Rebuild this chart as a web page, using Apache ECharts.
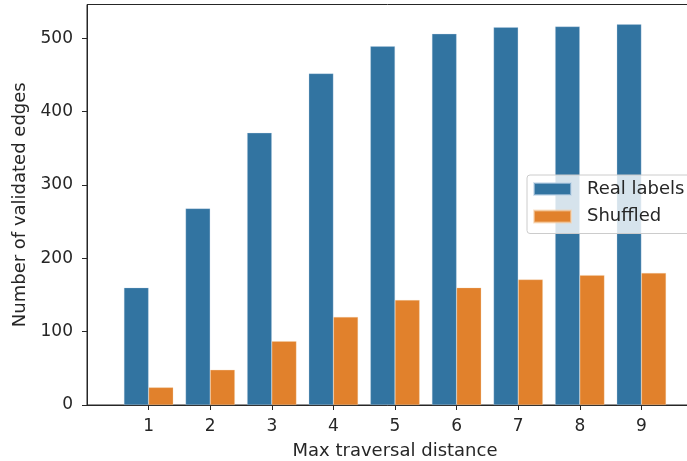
<!DOCTYPE html>
<html>
<head>
<meta charset="utf-8">
<script src="https://cdn.jsdelivr.net/npm/echarts@6/dist/echarts.min.js"></script>
<style>
  html, body { margin: 0; padding: 0; background: #fff; }
  #chart { width: 687px; height: 461px; }
</style>
</head>
<body>
<div id="chart"></div>
<script>
// Max traversal distance (x categories)
const categories = ['1', '2', '3', '4', '5', '6', '7', '8', '9'];
// Number of validated edges per distance
const realLabels = [160, 268, 371, 452, 489, 506, 515, 516, 519];
const shuffled = [24, 48, 87, 120, 143, 160, 171, 177, 180];
// Y axis tick values
const yTicks = [0, 100, 200, 300, 400, 500];

const FONT = 'DejaVu Sans';
const INK = '#262626';

// Pad the category axis with an empty slot on each side so the first
// bar group sits one step in from the left spine.
const axisCats = [''].concat(categories, ['']);
const pad = arr => [null].concat(arr, [null]);

const chart = echarts.init(document.getElementById('chart'), null, { renderer: 'canvas' });

chart.setOption({
  animation: false,
  textStyle: { fontFamily: FONT },
  grid: {
    left: 87,
    right: -16,
    top: 4.5,
    bottom: 56,
    outerBoundsMode: 'none',
    containLabel: false,
    show: true,
    borderColor: INK,
    borderWidth: 1,
    backgroundColor: 'transparent'
  },
  legend: {
    left: 527,
    top: 175,
    orient: 'vertical',
    itemWidth: 37,
    itemHeight: 12,
    itemGap: 9.5,
    padding: [5, 6, 8, 6],
    backgroundColor: 'rgba(255,255,255,0.8)',
    borderColor: '#cccccc',
    borderWidth: 1,
    borderRadius: 3,
    icon: 'rect',
    textStyle: {
      fontFamily: FONT,
      fontSize: 18,
      lineHeight: 18,
      color: INK,
      padding: [0, 0, 0, 11]
    },
    data: ['Real labels', 'Shuffled']
  },
  xAxis: {
    type: 'category',
    data: axisCats,
    boundaryGap: false,
    name: 'Max traversal distance',
    nameLocation: 'middle',
    nameGap: 37,
    nameTextStyle: { fontFamily: FONT, fontSize: 18, color: INK },
    axisLine: { show: true, lineStyle: { color: INK, width: 1 } },
    axisTick: {
      show: true,
      length: 5,
      interval: (i, v) => v !== '',
      lineStyle: { color: INK, width: 1 }
    },
    axisLabel: {
      interval: (i, v) => v !== '',
      margin: 13,
      fontFamily: FONT,
      fontSize: 17,
      color: INK
    },
    splitLine: { show: false }
  },
  yAxis: {
    type: 'value',
    min: 0,
    max: 546,
    interval: 100,
    name: 'Number of validated edges',
    nameLocation: 'middle',
    nameGap: 52,
    nameTextStyle: { fontFamily: FONT, fontSize: 18, color: INK },
    axisLine: { show: true, lineStyle: { color: INK, width: 1 } },
    axisTick: {
      show: true,
      length: 5,
      customValues: yTicks,
      lineStyle: { color: INK, width: 1 }
    },
    axisLabel: {
      customValues: yTicks,
      margin: 14,
      fontFamily: FONT,
      fontSize: 17,
      color: INK
    },
    splitLine: { show: false }
  },
  series: [
    {
      name: 'Real labels',
      type: 'bar',
      data: pad(realLabels),
      barGap: '0%',
      barCategoryGap: '20%',
      itemStyle: {
        color: '#3274a1',
        borderColor: 'rgba(190,212,232,0.6)',
        borderWidth: 0.5
      }
    },
    {
      name: 'Shuffled',
      type: 'bar',
      data: pad(shuffled),
      barGap: '0%',
      barCategoryGap: '20%',
      itemStyle: {
        color: '#e1812c',
        borderColor: 'rgba(246,210,172,0.6)',
        borderWidth: 0.5
      }
    }
  ]
});
</script>
</body>
</html>
